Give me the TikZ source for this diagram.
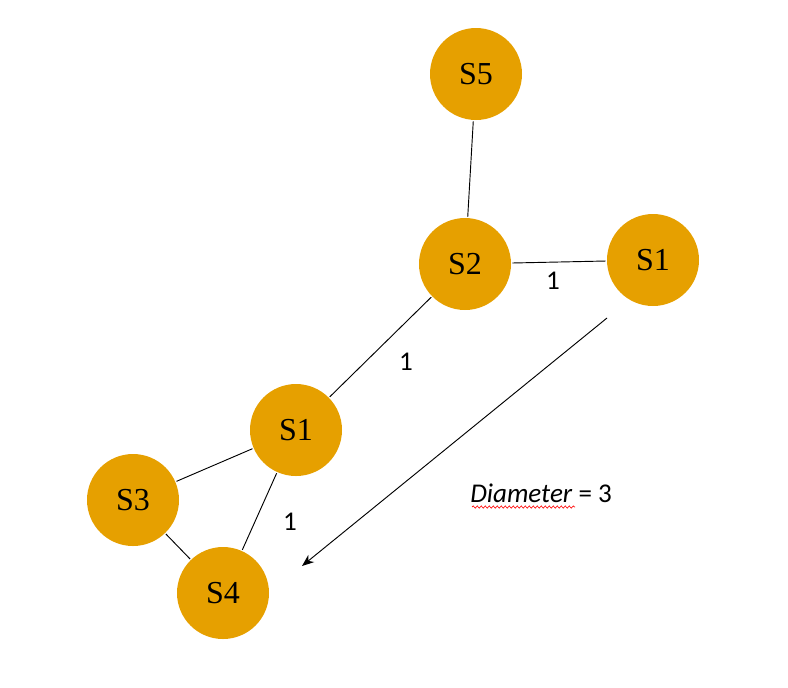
\documentclass[tikz,border=0pt]{standalone}
\usepackage{fontspec}
\setmainfont{Liberation Serif}
\newfontfamily\calibri{Carlito}
\usepackage{xcolor}
\usetikzlibrary{arrows.meta,decorations.pathmorphing}
\definecolor{nodeorange}{RGB}{230,160,0}
\tikzset{
  server/.style={circle,fill=nodeorange,draw=none,minimum size=69pt,inner sep=0pt,outer sep=1pt,font=\fontsize{24}{26}\selectfont},
  link/.style={draw=black,line width=0.7pt},
  weight/.style={font=\calibri\fontsize{20.3}{22}\selectfont,inner sep=0.75pt}
}

\begin{document}
\begin{tikzpicture}[x=0.75pt,y=0.75pt,yscale=-1,xscale=1]
\useasboundingbox (0,0) rectangle (788,687);
\node[server] (s5) at (476,74) {S5};
\node[server] (s2) at (465,264) {S2};
\node[server] (s1r) at (653,260) {S1};
\node[server] (s1m) at (296,430) {S1};
\node[server] (s3) at (133,500) {S3};
\node[server] (s4) at (223,593) {S4};
\draw[link] (s5) -- (s2);
\draw[link] (s2) -- (s1r);
\draw[link] (s2) -- (s1m);
\draw[link] (s1m) -- (s3);
\draw[link] (s3) -- (s4);
\draw[link] (s1m) -- (s4);
\node[weight] (w1) at (553,281) {1};
\node[weight] (w2) at (406,362) {1};
\node[weight] (w3) at (290,522) {1};
\coordinate (arrstart) at (607,318);
\coordinate (arrend) at (302,566);
\draw[link,-{Stealth[length=9pt,width=7pt]}] (arrstart) -- (arrend);
\node[weight,anchor=west] (diam) at (469,493) {\textit{Diameter} = 3};
\draw[red,line width=0.5pt,decorate,decoration={snake,amplitude=0.8pt,segment length=3pt}] (472,507) -- (575,507);
\end{tikzpicture}
\end{document}
